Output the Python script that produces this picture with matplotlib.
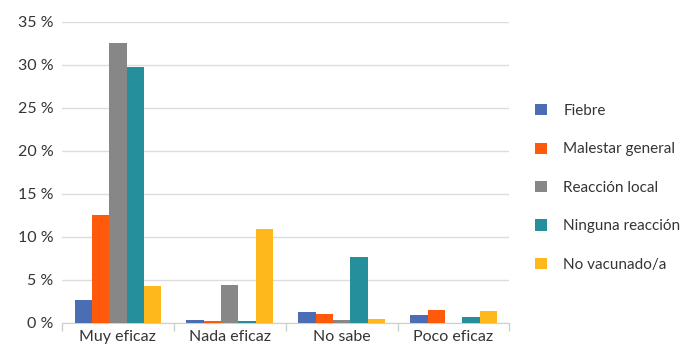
import matplotlib.pyplot as plt
import numpy as np

plt.rcParams['font.family'] = ['Lato', 'DejaVu Sans']

categories = ["Muy eficaz", "Nada eficaz", "No sabe", "Poco eficaz"]
series_names = ["Fiebre", "Malestar general", "Reacción local",
                "Ninguna reacción", "No vacunado/a"]

fiebre = [2.7, 0.35, 1.25, 0.9]
malestar = [12.5, 0.2, 1.05, 1.55]
reaccion = [32.5, 4.45, 0.35, 0.0]
ninguna = [29.7, 0.2, 7.65, 0.7]
no_vacunado = [4.3, 10.9, 0.5, 1.4]

yticks = [0, 5, 10, 15, 20, 25, 30, 35]

colors = ["#4a6db4", "#ff5a0c", "#878787", "#25909b", "#ffb81c"]
series = [fiebre, malestar, reaccion, ninguna, no_vacunado]

fig = plt.figure(figsize=(6.96, 3.54), dpi=100)
ax = fig.add_axes([0.089, 0.088, 0.643, 0.851])

x = np.arange(len(categories))
width = 0.155
for i, (vals, name, col) in enumerate(zip(series, series_names, colors)):
    ax.bar(x + (i - 2) * width, vals, width, color=col, label=name, zorder=3)

ax.set_xlim(-0.5, len(categories) - 0.5)
ax.set_ylim(0, 35)
ax.set_yticks(yticks)
ax.set_yticklabels([f"{t} %" for t in yticks])
ax.set_xticks(x)
ax.set_xticklabels(categories)
ax.set_xticks(np.arange(len(categories) + 1) - 0.5, minor=True)

ax.grid(axis='y', color="#dcdcdc", linewidth=1, zorder=0)
for s in ["top", "right", "left"]:
    ax.spines[s].set_visible(False)
ax.spines["bottom"].set_color("#cfcfcf")
ax.tick_params(axis='y', length=0, pad=6, labelsize=11.5, labelcolor="#353535")
ax.tick_params(axis='x', which='major', length=0, pad=5, labelsize=11.5, labelcolor="#353535")
ax.tick_params(axis='x', which='minor', length=6, color="#cfcfcf", width=1)

handles, labels = ax.get_legend_handles_labels()
leg = fig.legend(handles, labels, loc='upper left', bbox_to_anchor=(0.749, 0.745),
                 frameon=False, fontsize=11, handlelength=0.75, handleheight=0.75,
                 handletextpad=1.1, labelspacing=1.6)
for t in leg.get_texts():
    t.set_color("#353535")

fig.savefig("out.png", dpi=100)
